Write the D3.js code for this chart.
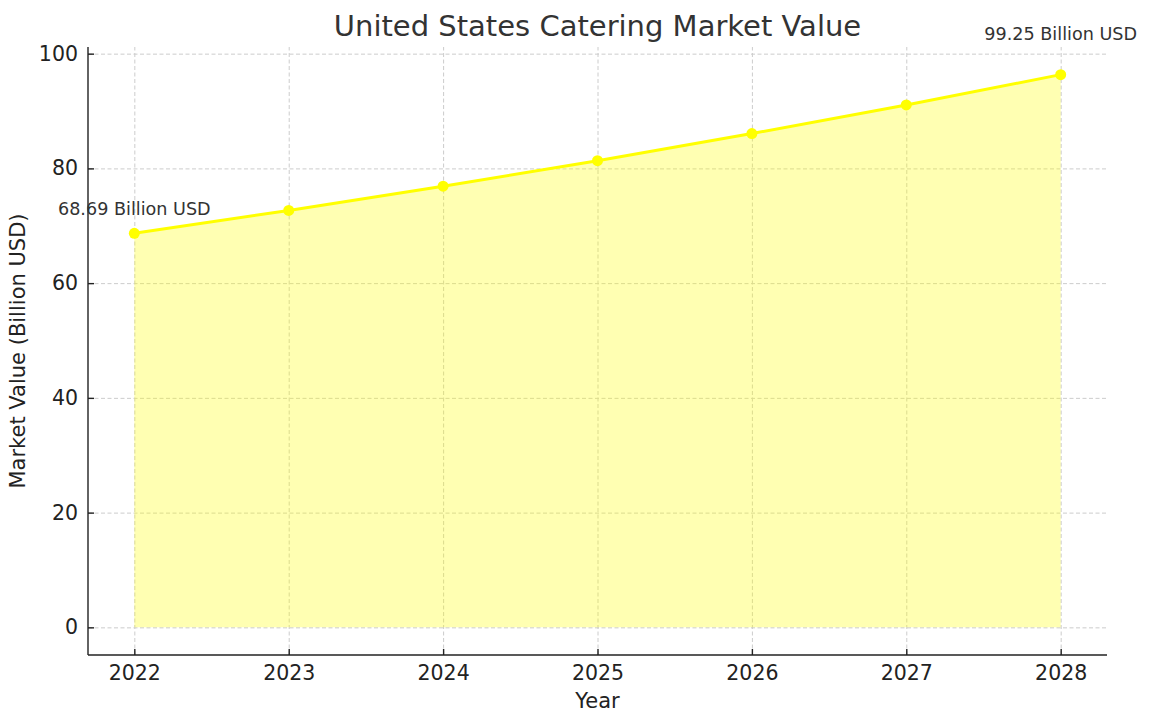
<!DOCTYPE html>
<html>
<head>
<meta charset="utf-8">
<script src="https://cdn.jsdelivr.net/npm/d3@7"></script>
<style>
  body { margin: 0; background: #fff; }
  svg { display: block; font-family: "DejaVu Sans", sans-serif; }
  .grid line { stroke: #cccccc; stroke-width: 1; stroke-dasharray: 4,2.5; }
  .grid path { display: none; }
  .axis path, .axis line { stroke: #222; stroke-width: 1.4; }
  .axis text { fill: #222; font-size: 20.5px; font-family: "DejaVu Sans", sans-serif; }
</style>
</head>
<body>
<svg width="1150" height="720"></svg>
<script>
// data
var years = [2022, 2023, 2024, 2025, 2026, 2027, 2028]
var values = [68.69, 72.67, 76.89, 81.35, 86.07, 91.06, 96.34]
var yTicks = [0, 20, 40, 60, 80, 100]
var notes = [
  { year: 2022, value: 68.69, text: "68.69 Billion USD" },
  { year: 2028, value: 99.25, text: "99.25 Billion USD" }
]

var width = 1150
var height = 720
var margin = { top: 47, right: 43, bottom: 65, left: 88 }

let svg = d3.select("svg")

let data = years.map((y, i) => ({ year: y, value: values[i] }))

// matplotlib style 5% padding
var xscale = d3.scaleLinear()
  .domain([2022 - 0.3, 2028 + 0.3])
  .range([margin.left, width - margin.right])

var yscale = d3.scaleLinear()
  .domain([-4.82, 101.16])
  .range([height - margin.bottom, margin.top])

// grid
svg.append("g")
  .attr("class", "grid")
  .attr("transform", "translate(0," + (height - margin.bottom) + ")")
  .call(d3.axisBottom(xscale).tickValues(years).tickSize(-(height - margin.top - margin.bottom)).tickFormat(""))

svg.append("g")
  .attr("class", "grid")
  .attr("transform", "translate(" + margin.left + ",0)")
  .call(d3.axisLeft(yscale).tickValues(yTicks).tickSize(-(width - margin.left - margin.right)).tickFormat(""))

// area fill
var area = d3.area()
  .x(d => xscale(d.year))
  .y0(yscale(0))
  .y1(d => yscale(d.value))

svg.append("path")
  .datum(data)
  .attr("d", area)
  .attr("fill", "#ffff00")
  .attr("fill-opacity", 0.3)

// line
var line = d3.line()
  .x(d => xscale(d.year))
  .y(d => yscale(d.value))

svg.append("path")
  .datum(data)
  .attr("d", line)
  .attr("fill", "none")
  .attr("stroke", "#ffff00")
  .attr("stroke-width", 3)

svg.selectAll(".dot")
  .data(data)
  .enter()
  .append("circle")
  .attr("class", "dot")
  .attr("cx", d => xscale(d.year))
  .attr("cy", d => yscale(d.value))
  .attr("r", 5.5)
  .attr("fill", "#ffff00")

// axes (ticks pointing inward)
let xAxis = svg.append("g")
  .attr("class", "axis")
  .attr("transform", "translate(0," + (height - margin.bottom) + ")")
  .call(d3.axisBottom(xscale).tickValues(years).tickFormat(d3.format("d")).tickSizeInner(-6).tickSizeOuter(0).tickPadding(10))
xAxis.select(".domain").attr("d", "M" + margin.left + ",0H" + (width - margin.right))

let yAxis = svg.append("g")
  .attr("class", "axis")
  .attr("transform", "translate(" + margin.left + ",0)")
  .call(d3.axisLeft(yscale).tickValues(yTicks).tickSizeInner(-6).tickSizeOuter(0).tickPadding(10))
yAxis.select(".domain").attr("d", "M0," + margin.top + "V" + (height - margin.bottom))

// annotations
svg.selectAll(".note")
  .data(notes)
  .enter()
  .append("text")
  .attr("class", "note")
  .attr("x", d => xscale(d.year))
  .attr("y", d => yscale(d.value) - 18)
  .attr("text-anchor", "middle")
  .attr("fill", "#333")
  .style("font-size", "17.6px")
  .text(d => d.text)

// title and labels
svg.append("text")
  .attr("x", (margin.left + width - margin.right) / 2)
  .attr("y", 36)
  .attr("text-anchor", "middle")
  .attr("fill", "#333")
  .style("font-size", "29px")
  .text("United States Catering Market Value")

svg.append("text")
  .attr("x", (margin.left + width - margin.right) / 2)
  .attr("y", 708)
  .attr("text-anchor", "middle")
  .attr("fill", "#222")
  .style("font-size", "21px")
  .text("Year")

svg.append("text")
  .attr("transform", "translate(25," + ((margin.top + height - margin.bottom) / 2) + ") rotate(-90)")
  .attr("text-anchor", "middle")
  .attr("fill", "#222")
  .style("font-size", "21px")
  .text("Market Value (Billion USD)")
</script>
</body>
</html>
